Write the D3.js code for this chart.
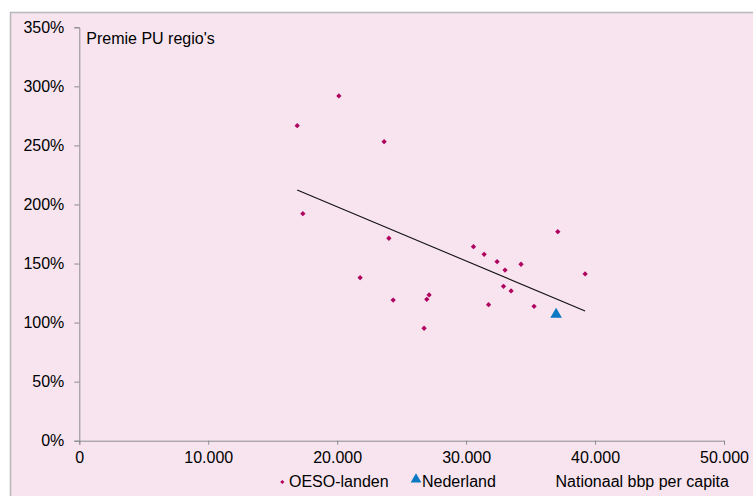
<!DOCTYPE html>
<html>
<head>
<meta charset="utf-8">
<script src="https://cdn.jsdelivr.net/npm/d3@7"></script>
<style>
  body { margin: 0; background: #fff; }
  svg { display: block; font-family: "Liberation Sans", Arial, sans-serif; }
</style>
</head>
<body>
<script>
// OESO-landen: nationaal bbp per capita, premie PU regio's (%)
var oesoBbp = [16900, 17340, 20130, 23640, 24010, 21780, 24340, 27130, 26950, 26740,
  30570, 31400, 32400, 33020, 34260, 32900, 33490, 31740, 35270, 37110, 39230];
var oesoPremie = [266.7, 192.2, 291.9, 253.2, 171.4, 138.0, 119.1, 123.4, 119.7, 95.2,
  164.3, 157.8, 151.6, 144.5, 149.4, 130.7, 126.8, 115.2, 113.8, 177.0, 141.2];
var nlBbp = [36980];
var nlPremie = [107];
var trendBbp = [16900, 39230];
var trendPremie = [212.3, 109.8];
var xTicks = [0, 10000, 20000, 30000, 40000, 50000];
var yTicks = [0, 50, 100, 150, 200, 250, 300, 350];

var W = 753, H = 496;
var margin = { top: 27.3, left: 79.3, right: 29, bottom: 55.3 },
  width = W - margin.left - margin.right,
  height = H - margin.top - margin.bottom;

var svg = d3.select("body").append("svg")
  .attr("width", W)
  .attr("height", H);

svg.append("rect")
  .attr("x", 10.5).attr("y", 12.5)
  .attr("width", W).attr("height", H)
  .attr("fill", "#f7e4ef")
  .attr("stroke", "#b8b8b8")
  .attr("stroke-width", 1.5);

var g = svg.append("g")
  .attr("transform", "translate(" + margin.left + "," + margin.top + ")");

var x = d3.scaleLinear().domain([0, 50000]).range([0, width]);
var y = d3.scaleLinear().domain([0, 350]).range([height, 0]);

var nlFormat = function (v) {
  return v === 0 ? "0" : d3.format(",")(v).replace(/,/g, ".");
};

var xAxis = g.append("g")
  .attr("transform", "translate(0," + height + ")")
  .call(d3.axisBottom(x).tickValues(xTicks).tickFormat(nlFormat).tickSize(4).tickPadding(8));
var yAxis = g.append("g")
  .call(d3.axisLeft(y).tickValues(yTicks).tickFormat(function (d) { return d + "%"; }).tickSize(5).tickPadding(10));

[xAxis, yAxis].forEach(function (ax) {
  ax.select(".domain").attr("stroke", "#8c8c8c");
  ax.selectAll(".tick line").attr("stroke", "#8c8c8c");
  ax.selectAll("text").attr("fill", "#000").style("font-size", "16px")
    .style("font-family", "'Liberation Sans', Arial, sans-serif");
});
xAxis.selectAll(".tick text").attr("dy", "0.62em");

// trend line
g.append("line")
  .attr("x1", x(trendBbp[0])).attr("y1", y(trendPremie[0]))
  .attr("x2", x(trendBbp[1])).attr("y2", y(trendPremie[1]))
  .attr("stroke", "#111")
  .attr("stroke-width", 1.1);

var diamond = d3.symbol().type(d3.symbolSquare).size(14);
var triangle = d3.symbol().type(d3.symbolTriangle).size(58);

g.selectAll(".oeso")
  .data(oesoBbp)
  .enter()
  .append("path")
  .attr("class", "oeso")
  .attr("d", diamond)
  .attr("transform", function (d, i) {
    return "translate(" + x(d) + "," + y(oesoPremie[i]) + ") rotate(45)";
  })
  .attr("fill", "#b0005f");

g.selectAll(".nl")
  .data(nlBbp)
  .enter()
  .append("path")
  .attr("class", "nl")
  .attr("d", triangle)
  .attr("transform", function (d, i) {
    return "translate(" + x(d) + "," + y(nlPremie[i]) + ")";
  })
  .attr("fill", "#0a78c2");

g.append("text")
  .attr("x", 7).attr("y", 16.5)
  .style("font-size", "16px")
  .text("Premie PU regio's");

// legend
var leg = svg.append("g").style("font-size", "16px");
leg.append("path").attr("d", d3.symbol().type(d3.symbolSquare).size(9))
  .attr("transform", "translate(282.3,482) rotate(45)").attr("fill", "#b0005f");
leg.append("text").attr("x", 289).attr("y", 486.5).text("OESO-landen");
leg.append("path").attr("d", d3.symbol().type(d3.symbolTriangle).size(50))
  .attr("transform", "translate(416,479.5)").attr("fill", "#0a78c2");
leg.append("text").attr("x", 422).attr("y", 486.5).text("Nederland");
leg.append("text").attr("x", 555.5).attr("y", 486.5).text("Nationaal bbp per capita");
</script>
</body>
</html>
